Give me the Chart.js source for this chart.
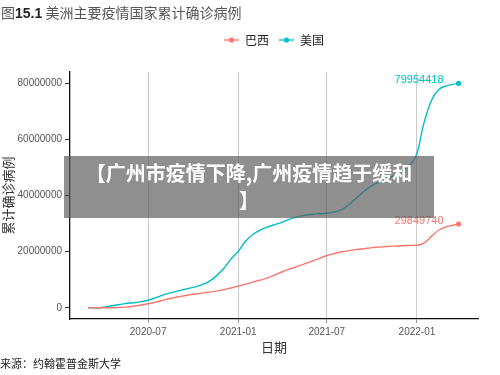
<!DOCTYPE html>
<html>
<head>
<meta charset="utf-8">
<script src="https://cdn.jsdelivr.net/npm/chart.js@4/dist/chart.umd.min.js"></script>
<style>
  body { margin: 0; background: #fff; }
  #wrap { position: relative; width: 500px; height: 375px; overflow: hidden; }
  #title { position: absolute; left: 1px; top: 3px; font: 14px/18px "Noto Sans CJK SC", sans-serif; color: #555; white-space: nowrap; }
  #title b { color: #222; font-family: "Liberation Sans", Arial, sans-serif; }
  #source { position: absolute; left: 0; top: 355px; font: 11px/16px "Noto Sans CJK SC", sans-serif; color: #222; white-space: nowrap; }
  #banner { position: absolute; left: 64px; top: 156px; width: 370px; height: 62px; background: rgba(90,90,90,0.68);
            color: #fff; font: bold 20px/27px "Noto Sans CJK SC", sans-serif; text-align: center; padding-top: 3px; box-sizing: border-box; }
</style>
</head>
<body>
<div id="wrap">
  <canvas id="chart" width="500" height="375"></canvas>
  <div id="title">图<b>15.1</b> 美洲主要疫情国家累计确诊病例</div>
  <div id="banner">【广州市疫情下降,广州疫情趋于缓和<br>】</div>
  <div id="source">来源：约翰霍普金斯大学</div>
</div>
<script>
// data (cumulative confirmed cases)
const seriesNames = ['巴西', '美国'];
const seriesColors = ['#F8766D', '#00BFC4'];
const dates = [
  '2020-03-01', '2020-03-15', '2020-04-01', '2020-04-15', '2020-05-01', '2020-05-15', '2020-06-01', '2020-06-15',
  '2020-07-01', '2020-07-15', '2020-08-01', '2020-08-15', '2020-09-01', '2020-09-15', '2020-10-01', '2020-10-15',
  '2020-11-01', '2020-11-15', '2020-12-01', '2020-12-15', '2021-01-01', '2021-01-15', '2021-02-01', '2021-02-15',
  '2021-03-01', '2021-03-15', '2021-04-01', '2021-04-15', '2021-05-01', '2021-05-15', '2021-06-01', '2021-06-15',
  '2021-07-01', '2021-07-15', '2021-08-01', '2021-08-15', '2021-09-01', '2021-09-15', '2021-10-01', '2021-10-15',
  '2021-11-01', '2021-11-15', '2021-12-01', '2021-12-15', '2022-01-01', '2022-01-15', '2022-02-01', '2022-02-15',
  '2022-03-01', '2022-03-15', '2022-03-27'
];
const brazil = [
  2, 200, 6800, 28000, 92000, 220000, 530000, 890000,
  1450000, 1930000, 2700000, 3320000, 3910000, 4380000, 4810000, 5140000,
  5550000, 5860000, 6390000, 6970000, 7700000, 8330000, 9230000, 9870000,
  10590000, 11520000, 12840000, 13750000, 14660000, 15520000, 16620000, 17540000,
  18620000, 19260000, 19950000, 20380000, 20800000, 21030000, 21430000, 21610000,
  21810000, 21960000, 22120000, 22210000, 22290000, 23000000, 25700000, 27700000,
  28800000, 29400000, 29849740
];
const usa = [
  80, 3700, 210000, 640000, 1100000, 1460000, 1810000, 2110000,
  2690000, 3500000, 4620000, 5310000, 6040000, 6610000, 7270000, 7990000,
  9210000, 11000000, 13700000, 16900000, 20100000, 23500000, 26300000, 27700000,
  28700000, 29500000, 30500000, 31500000, 32400000, 32900000, 33300000, 33500000,
  33700000, 34100000, 35100000, 36700000, 39400000, 41500000, 43500000, 44800000,
  46100000, 47100000, 48800000, 50400000, 54900000, 65600000, 74400000, 77800000,
  79000000, 79600000, 79954418
];
const xTickLabels = ['2020-07', '2021-01', '2021-07', '2022-01'];
const yTicks = [0, 20000000, 40000000, 60000000, 80000000];

// days since 2020-01-01
function dayOf(s) {
  const p = s.split('-');
  return (Date.UTC(+p[0], +p[1] - 1, +(p[2] || 1)) - Date.UTC(2020, 0, 1)) / 86400000;
}

function toPoints(values) {
  return values.map((v, i) => ({ x: dayOf(dates[i]), y: v }));
}

// line with a dot, like the ggplot legend key
function legendMark(color) {
  const c = document.createElement('canvas');
  c.width = 15; c.height = 9;
  const g = c.getContext('2d');
  g.strokeStyle = color; g.lineWidth = 1.5;
  g.beginPath(); g.moveTo(0, 4.5); g.lineTo(15, 4.5); g.stroke();
  g.fillStyle = color;
  g.beginPath(); g.arc(7.5, 4.5, 2.6, 0, Math.PI * 2); g.fill();
  return c;
}

// value label at the last point of each line
const endLabels = {
  id: 'endLabels',
  afterDatasetsDraw(chart) {
    const ctx = chart.ctx;
    ctx.save();
    ctx.font = '11px "Liberation Sans", Arial, sans-serif';
    ctx.textAlign = 'right';
    ctx.textBaseline = 'middle';
    chart.data.datasets.forEach((ds, i) => {
      const meta = chart.getDatasetMeta(i);
      const pt = meta.data[meta.data.length - 1];
      ctx.fillStyle = seriesColors[i];
      ctx.fillText(String(ds.data[ds.data.length - 1].y), pt.x - 15, pt.y - 3.5);
    });
    ctx.restore();
  }
};

const lastIdx = dates.length - 1;
const tickFont = { family: '"Liberation Sans", Arial, sans-serif', size: 10 };
const cjkFont = '"Noto Sans CJK SC", sans-serif';

new Chart(document.getElementById('chart').getContext('2d'), {
  type: 'line',
  data: {
    datasets: [brazil, usa].map((vals, i) => ({
      label: seriesNames[i],
      data: toPoints(vals),
      borderColor: seriesColors[i],
      backgroundColor: seriesColors[i],
      borderWidth: 1.4,
      cubicInterpolationMode: 'monotone',
      pointRadius: ctx => ctx.dataIndex === lastIdx ? 2.6 : 0,
      pointBorderWidth: 0,
      fill: false
    }))
  },
  options: {
    responsive: false,
    animation: false,
    devicePixelRatio: 1,
    layout: { padding: { top: 24, right: 22, bottom: 16, left: 0 } },
    plugins: {
      tooltip: { enabled: false },
      legend: {
        position: 'top',
        fullSize: false,
        labels: {
          usePointStyle: true,
          pointStyleWidth: 15,
          padding: 10,
          color: '#222',
          font: { family: cjkFont, size: 12 },
          generateLabels: chart => Chart.defaults.plugins.legend.labels.generateLabels(chart).map(item => {
            item.pointStyle = legendMark(seriesColors[item.datasetIndex]);
            return item;
          })
        }
      },
      // empty spacer between legend and plot
      subtitle: {
        display: true,
        text: '',
        position: 'top',
        weight: 500,
        font: { size: 1, lineHeight: 1 },
        padding: { top: 0, bottom: 15 }
      }
    },
    scales: {
      x: {
        type: 'linear',
        min: 22.5,
        max: 855.7,
        afterBuildTicks: s => { s.ticks = xTickLabels.map(l => ({ value: dayOf(l) })); },
        afterFit: s => { s.height = 40; },
        ticks: {
          color: '#555',
          font: tickFont,
          padding: 3,
          maxRotation: 0,
          callback: v => xTickLabels[xTickLabels.map(dayOf).indexOf(v)]
        },
        grid: { color: '#c4c4c4', lineWidth: 0.9, tickColor: '#888', tickLength: 4 },
        border: { display: true, color: '#111', width: 1.3 },
        title: {
          display: true,
          text: '日期',
          color: '#333',
          font: { family: cjkFont, size: 13 },
          padding: { top: 0, bottom: 4.2 }
        }
      },
      y: {
        min: -4000000,
        max: 84000000,
        afterBuildTicks: s => { s.ticks = yTicks.map(v => ({ value: v })); },
        afterFit: s => { s.width = 70; },
        ticks: {
          color: '#555',
          font: tickFont,
          padding: 3,
          callback: v => String(v)
        },
        grid: { drawOnChartArea: false, drawTicks: true, tickLength: 5, color: '#333' },
        border: { display: true, color: '#111', width: 1.3 },
        title: {
          display: true,
          text: '累计确诊病例',
          color: '#333',
          font: { family: cjkFont, size: 13 },
          padding: { top: 0, bottom: 0 }
        }
      }
    }
  },
  plugins: [endLabels]
});
</script>
</body>
</html>
